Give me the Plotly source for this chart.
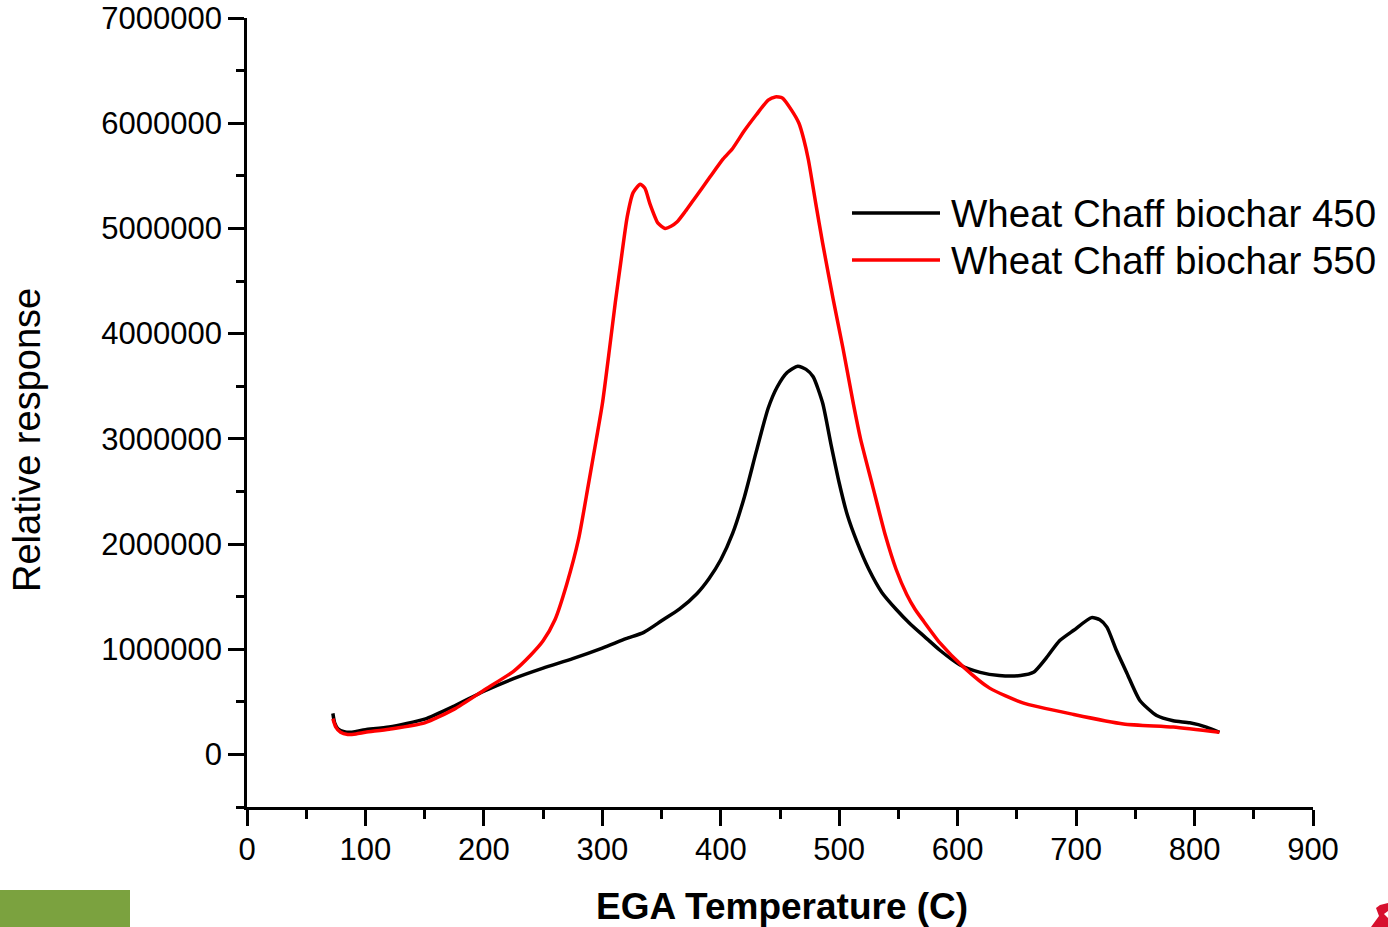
import plotly.graph_objects as go

# EGA traces for wheat chaff biochar
series_names = ["Wheat Chaff biochar 450", "Wheat Chaff biochar 550"]

temp_450 = [72.5, 74, 77, 82, 88, 95, 100, 120, 150, 175, 200, 225, 250, 275, 300,
            320, 335, 350, 365, 380, 390, 400, 410, 420, 430, 440, 447.5, 456, 465,
            472, 478, 486, 493, 500, 507, 515, 525, 536, 548, 560, 572, 585, 602,
            619, 635, 653, 664, 675, 686, 698, 713, 720, 726, 734, 743, 754, 768,
            782, 796, 810, 821]
resp_450 = [390000, 300000, 240000, 215000, 210000, 225000, 235000, 260000, 335000,
            460000, 600000, 720000, 820000, 910000, 1010000, 1100000, 1160000,
            1270000, 1380000, 1530000, 1670000, 1850000, 2100000, 2450000, 2880000,
            3290000, 3490000, 3630000, 3690000, 3660000, 3590000, 3340000, 2950000,
            2580000, 2270000, 2020000, 1760000, 1540000, 1380000, 1240000, 1120000,
            990000, 850000, 780000, 750000, 750000, 780000, 920000, 1080000,
            1180000, 1300000, 1280000, 1210000, 990000, 770000, 510000, 370000,
            320000, 300000, 260000, 210000]

temp_550 = [72.5, 75, 79, 85, 92, 100, 120, 150, 175, 200, 225, 240, 250, 260, 270,
            280, 288, 295, 300, 306, 311, 315, 321, 326, 332, 336, 340, 347, 353,
            358, 363, 370, 377, 384, 391, 402, 410, 420, 430, 440, 446, 452, 460,
            466, 470, 474, 480, 486, 495, 503, 512, 518, 528, 539, 548, 557, 564,
            571, 585, 605, 627, 655, 698, 740, 782, 821]
resp_550 = [340000, 260000, 210000, 190000, 195000, 210000, 240000, 300000, 430000,
            610000, 790000, 950000, 1080000, 1280000, 1620000, 2050000, 2550000,
            3000000, 3330000, 3850000, 4300000, 4630000, 5110000, 5340000, 5420000,
            5380000, 5240000, 5050000, 5000000, 5020000, 5060000, 5160000, 5270000,
            5380000, 5490000, 5660000, 5760000, 5930000, 6080000, 6220000, 6250000,
            6240000, 6120000, 6000000, 5850000, 5650000, 5250000, 4860000, 4320000,
            3870000, 3330000, 3000000, 2560000, 2080000, 1760000, 1520000, 1380000,
            1270000, 1060000, 830000, 630000, 490000, 380000, 290000, 260000, 210000]

series_colors = ["#000000", "#ff0000"]

x_ticks = [0, 100, 200, 300, 400, 500, 600, 700, 800, 900]
y_ticks = [0, 1000000, 2000000, 3000000, 4000000, 5000000, 6000000, 7000000]

FONT = "Liberation Sans, Arial, Helvetica, sans-serif"

W, H = 1388, 927
L, R, T, B = 247, 75, 18, 120
PW, PH = W - L - R, H - T - B


def px(x):
    return (x - L) / PW


def py(y):
    return (H - B - y) / PH


fig = go.Figure()
for name, xs, ys, col in zip(series_names, [temp_450, temp_550],
                             [resp_450, resp_550], series_colors):
    fig.add_trace(go.Scatter(
        x=xs, y=ys, mode="lines", name=name, showlegend=False,
        line=dict(color=col, width=3.5, shape="spline", smoothing=0.6),
    ))

# hand-built legend (long sample lines)
shapes = []
annotations = []
legend_rows = [213, 260]
for name, col, yr in zip(series_names, series_colors, legend_rows):
    shapes.append(dict(type="line", xref="paper", yref="paper",
                       x0=px(852), x1=px(940), y0=py(yr), y1=py(yr),
                       line=dict(color=col, width=3.5)))
    annotations.append(dict(xref="paper", yref="paper", x=px(949), y=py(yr),
                            text=name, showarrow=False, xanchor="left",
                            yanchor="middle",
                            font=dict(family=FONT, size=38.5, color="black")))

# axis titles
annotations.append(dict(xref="paper", yref="paper", x=px(782), y=py(907),
                        text="<b>EGA Temperature (C)</b>", showarrow=False,
                        xanchor="center", yanchor="middle",
                        font=dict(family=FONT, size=37, color="black")))
annotations.append(dict(xref="paper", yref="paper", x=px(27), y=py(440),
                        text="Relative response", showarrow=False,
                        textangle=-90, xanchor="center", yanchor="middle",
                        font=dict(family=FONT, size=38, color="black")))

# slide footer decorations
shapes.append(dict(type="rect", xref="paper", yref="paper",
                   x0=px(0), x1=px(130), y0=py(927), y1=py(890),
                   fillcolor="#7ba23f", line=dict(width=0), layer="above"))
red_pts = [(1380, 905), (1388, 903), (1388, 911), (1384, 914), (1388, 918),
           (1388, 927), (1371, 927), (1379, 916), (1376, 908)]
path = "M " + " L ".join(f"{px(a):.5f},{py(b):.5f}" for a, b in red_pts) + " Z"
shapes.append(dict(type="path", xref="paper", yref="paper", path=path,
                   fillcolor="#d7102e", line=dict(width=0), layer="above"))

axis_common = dict(
    tickmode="array", ticks="outside", ticklen=16, tickwidth=2.5,
    tickcolor="black", showline=True, linecolor="black", linewidth=2.5,
    showgrid=False, zeroline=False, automargin=False,
    tickfont=dict(family=FONT, size=31, color="black"),
)

fig.update_layout(
    width=W, height=H,
    margin=dict(l=L, r=R, t=T, b=B, pad=0, autoexpand=False),
    paper_bgcolor="white", plot_bgcolor="white",
    font=dict(family=FONT, color="black"),
    shapes=shapes, annotations=annotations,
    xaxis=dict(
        range=[0, 900], tickvals=x_ticks,
        ticktext=[str(v) for v in x_ticks],
        ticklabelstandoff=-3,
        minor=dict(dtick=50, tick0=0, ticks="outside", ticklen=9,
                   tickwidth=2.5, tickcolor="black", showgrid=False),
        **axis_common,
    ),
    yaxis=dict(
        range=[-500000, 7000000], tickvals=y_ticks,
        ticktext=[str(v) for v in y_ticks],
        minor=dict(dtick=500000, tick0=0, ticks="outside", ticklen=8,
                   tickwidth=2.5, tickcolor="black", showgrid=False),
        **axis_common,
    ),
)

fig.write_html("out.html")
